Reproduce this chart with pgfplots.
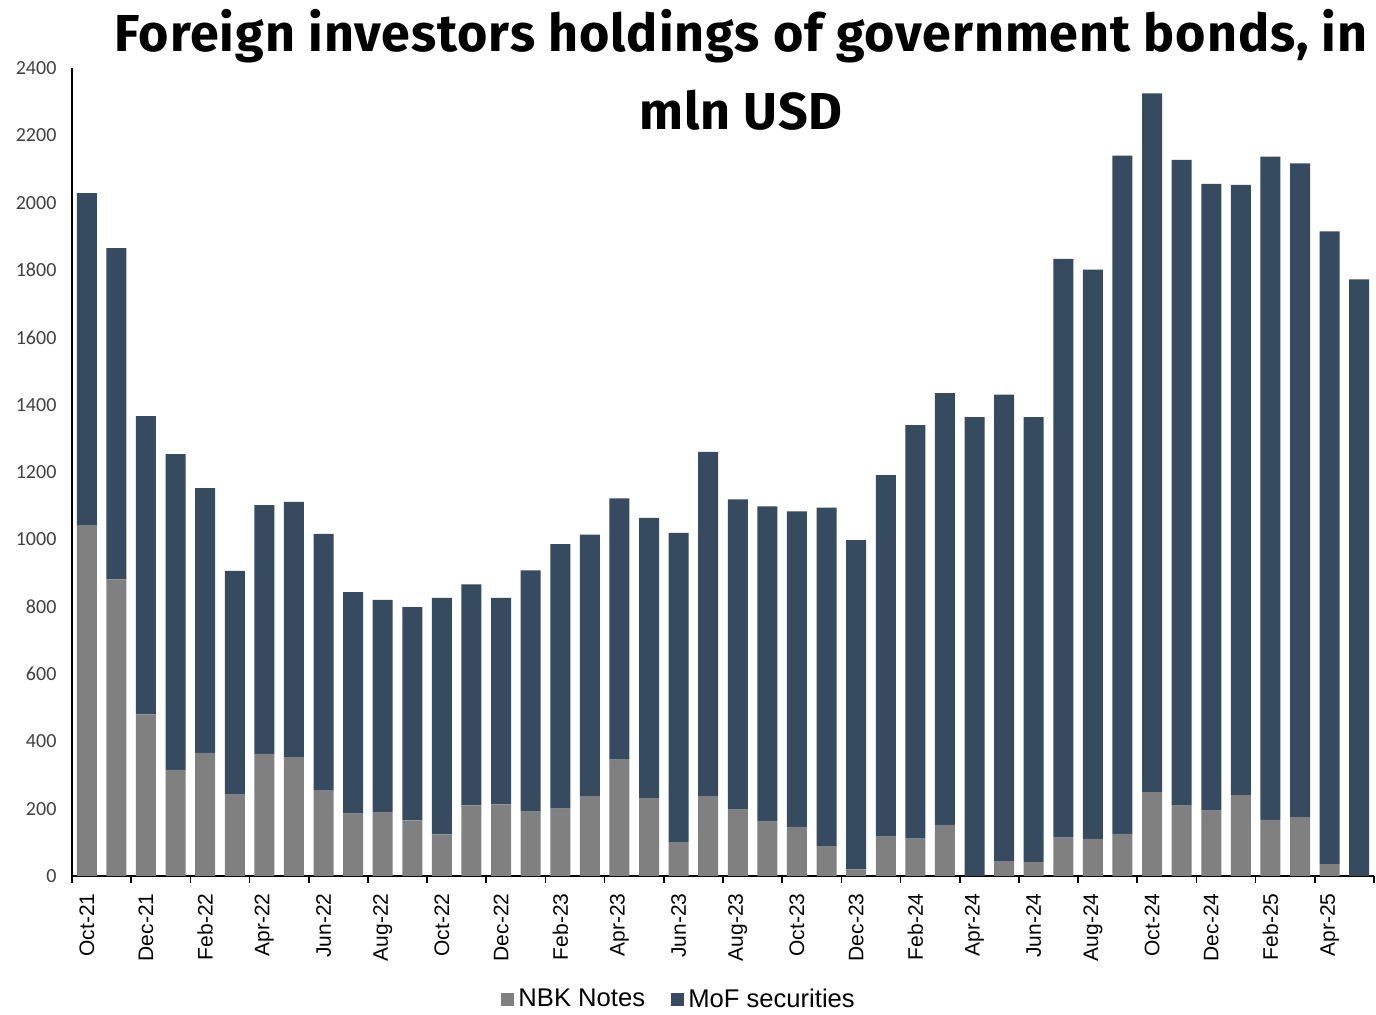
\documentclass[border=0pt]{standalone}
\usepackage{fontspec}
\setmainfont{Liberation Sans}
\newfontfamily\titlefont{Fira Sans}[LetterSpace=1.8]
\newfontfamily\carlito{Carlito}
\usepackage{pgfplots}
\usepackage{pgfplotstable}
\pgfplotsset{compat=1.18}
\definecolor{mof}{HTML}{364B60}
\definecolor{nbk}{HTML}{808080}
\definecolor{ticktxt}{HTML}{404040}

\pgfplotstableread{
idx nbk mof
0 1042 986
1 881 984
2 480 886
3 315 938
4 366 786
5 243 663
6 363 739
7 353 758
8 255 761
9 185 658
10 188 632
11 165 634
12 124 702
13 210 656
14 213 613
15 191 717
16 200 786
17 237 777
18 346 776
19 231 833
20 101 918
21 237 1023
22 197 922
23 164 934
24 146 937
25 89 1005
26 20 978
27 117 1074
28 111 1228
29 152 1282
30 0 1363
31 44 1386
32 41 1322
33 114 1719
34 110 1691
35 125 2015
36 249 2076
37 209 1918
38 194 1862
39 240 1813
40 167 1970
41 175 1942
42 35 1880
43 0 1772
}\datatable

\begin{document}
\begin{tikzpicture}
\useasboundingbox (0,0) rectangle (688pt,507pt);
\begin{axis}[
  at={(36pt,69pt)}, anchor=south west,
  scale only axis, width=651pt, height=404pt,
  ybar stacked, bar width=10pt,
  xmin=-0.5, xmax=43.5, ymin=0, ymax=2400,
  axis x line=bottom, axis y line=left,
  axis line style={-, line width=0.8pt, black},
  xtick={0,2,...,42},
  xticklabels={Oct-21,Dec-21,Feb-22,Apr-22,Jun-22,Aug-22,Oct-22,Dec-22,Feb-23,Apr-23,Jun-23,Aug-23,Oct-23,Dec-23,Feb-24,Apr-24,Jun-24,Aug-24,Oct-24,Dec-24,Feb-25,Apr-25},
  major x tick style={draw=none},
  minor xtick={-0.5,1.5,...,43.5},
  minor tick length=3.5pt,
  tick align=outside,
  minor x tick style={line width=0.8pt, black},
  ytick={0,200,...,2400},
  major y tick style={draw=none},
  /pgf/number format/.cd, 1000 sep={}, assume math mode=true,
  /pgfplots/.cd,
  yticklabel style={font=\carlito\fontsize{10}{12}\selectfont, text=ticktxt, anchor=east, xshift=0pt},
  xticklabel style={font=\fontsize{10.5}{12}\selectfont, rotate=90, anchor=east, xshift=-1pt, text=black},
  legend columns=2,
  legend style={at={(0.467,-0.153)}, anchor=center, draw=none, fill=none,
     font=\fontsize{12.8}{14}\selectfont,
     /tikz/every even column/.append style={column sep=11pt}},
  legend image code/.code={\fill[#1] (0pt,-3.3pt) rectangle (6.6pt,3.3pt);},
  clip=false,
]
\addplot+[fill=nbk, draw=none] table[x=idx, y=nbk]{\datatable};
\addplot+[fill=mof, draw=none] table[x=idx, y=mof]{\datatable};
\legend{NBK Notes, MoF securities}
\end{axis}
\node[anchor=base, font=\titlefont\bfseries\fontsize{26}{30}\selectfont] at (370.5pt,481pt) {Foreign investors holdings of government bonds, in};
\node[anchor=base, font=\titlefont\bfseries\fontsize{26}{30}\selectfont] at (370.5pt,442pt) {mln USD};
\end{tikzpicture}
\end{document}
